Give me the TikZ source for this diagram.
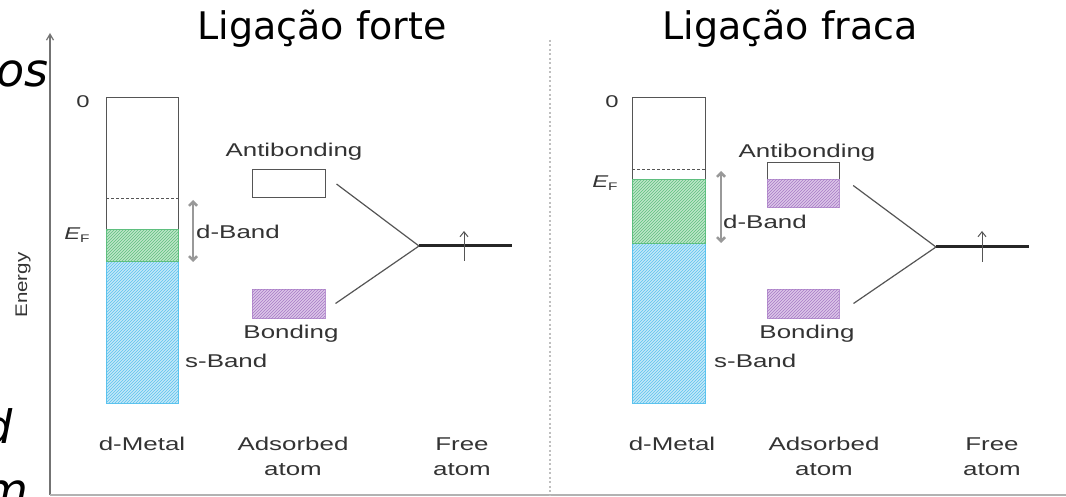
\documentclass[tikz,border=0pt]{standalone}
\usepackage{fontspec}
\usepackage{graphicx}
\setmainfont{Liberation Sans}
\newfontfamily\titlefont{DejaVu Sans}
\usetikzlibrary{patterns,arrows.meta}
\definecolor{txt}{HTML}{333333}
\definecolor{boxgray}{HTML}{555555}
\definecolor{gfill}{HTML}{BDE6C8}
\definecolor{ghatch}{HTML}{5FBF7F}
\definecolor{bfill}{HTML}{C4E8F8}
\definecolor{bhatch}{HTML}{5CC3EE}
\definecolor{pfill}{HTML}{DCC6E8}
\definecolor{phatch}{HTML}{A77AC6}
\newcommand{\hs}[1]{\scalebox{1.4}[1]{#1}}
\tikzset{
  lbl/.style={font=\fontsize{18.5}{20}\selectfont, text=txt, inner sep=0pt},
  smalllbl/.style={font=\fontsize{17}{19}\selectfont, text=txt, inner sep=0pt},
  ttl/.style={font=\titlefont\fontsize{38}{40}\selectfont, text=black, inner sep=0pt},
  frag/.style={font=\titlefont\itshape\fontsize{46}{50}\selectfont, text=black, inner sep=0pt},
  whitebox/.style={draw=boxgray, line width=1pt, fill=white},
  hatchg/.style={fill=gfill, postaction={pattern=north east lines, pattern color=ghatch}, draw=ghatch, line width=1pt},
  hatchb/.style={fill=bfill, postaction={pattern=north east lines, pattern color=bhatch}, draw=bhatch, line width=1pt},
  hatchp/.style={fill=pfill, postaction={pattern=north east lines, pattern color=phatch}, draw=phatch!80, line width=1pt},
  conn/.style={draw=boxgray, line width=1.2pt},
  level/.style={draw=black!85, line width=3pt},
  spin/.style={draw=boxgray, line width=1pt, -{Straight Barb[length=5pt,width=8pt]}},
  dband/.style={draw=black!40, line width=2.5pt, {Straight Barb[length=4pt,width=8pt]}-{Straight Barb[length=4pt,width=8pt]}},
  fermi/.style={draw=boxgray, line width=0.8pt, dash pattern=on 3pt off 2pt},
}
\begin{document}
\begin{tikzpicture}[x=1pt,y=-1pt]
\useasboundingbox (0,0) rectangle (1066,497);
\fill[white] (0,0) rectangle (1066,497);

% clipped slide fragments on the left
\begin{scope}
\clip (0,0) rectangle (1066,497);
\node[frag, anchor=base east] (fragos) at (49,87) {os};
\node[frag, anchor=base east] (fragd) at (13,443) {d};
\node[frag, anchor=base east] (fragm) at (29,506) {m};
\end{scope}

% titles
\node[ttl, anchor=base] (t1) at (322,40) {Ligação forte};
\node[ttl, anchor=base] (t2) at (790,40) {Ligação fraca};

% axes
\coordinate (axbot) at (50,495);
\coordinate (axtop) at (50,33);
\coordinate (axright) at (1066,495);
\draw[black!55, line width=1.2pt, -{Straight Barb[length=6pt,width=7pt]}] (axbot) -- (axtop);
\draw[black!30, line width=1.2pt] (axbot) -- (axright);
\node[font=\fontsize{20.5}{22}\selectfont, text=txt, rotate=90, inner sep=0pt] (energy) at (23,285) {\scalebox{1}[0.82]{Energy}};

% divider
\coordinate (dvtop) at (550,40);
\coordinate (dvbot) at (550,495);
\draw[black!25, line width=1.6pt, dash pattern=on 2pt off 2.5pt] (dvtop) -- (dvbot);

% ---------------- left panel: strong bonding ----------------
\draw[whitebox] (106,98) rectangle (178,230);
\draw[hatchb] (106,262) rectangle (178,403);
\draw[hatchg] (106,230) rectangle (178,262);
\draw[fermi] (106,198) -- (178,198);
\node[smalllbl, anchor=base] (zero1) at (83,108) {\hs{0}};
\node[smalllbl, anchor=base] (ef1) at (77,240) {\hs{\itshape E}\raisebox{-3pt}{\fontsize{11}{12}\selectfont\hs{F}}};
\coordinate (db1t) at (193,200);
\coordinate (db1b) at (193,262);
\draw[dband] (db1t) -- (db1b);
\node[lbl, anchor=base west] (dband1) at (196,239) {\hs{d-Band}};
\node[lbl, anchor=base west] (sband1) at (185,367) {\hs{s-Band}};
\node[lbl, anchor=base] (ablbl1) at (294,157) {\hs{Antibonding}};
\node[whitebox, minimum width=73pt, minimum height=28pt, inner sep=0pt] (ab1) at (288.5,184) {};
\node[hatchp, minimum width=73pt, minimum height=29pt, inner sep=0pt] (bd1) at (288.5,303.5) {};
\node[lbl, anchor=base] (bdlbl1) at (291,338) {\hs{Bonding}};
\coordinate (j1) at (419,246);
\coordinate (fa1) at (512,246);
\draw[conn] ([xshift=11pt]ab1.east) -- (j1);
\draw[conn] ([xshift=10pt]bd1.east) -- (j1);
\draw[level] (j1) -- (fa1);
\coordinate (s1b) at (464,261);
\coordinate (s1t) at (464,231);
\draw[spin] (s1b) -- (s1t);
\node[lbl, anchor=base] (dm1) at (142,450) {\hs{d-Metal}};
\node[lbl, anchor=base] (ad1) at (293,450) {\hs{Adsorbed}};
\node[lbl, anchor=base] (ad1b) at (293,475) {\hs{atom}};
\node[lbl, anchor=base] (fr1) at (462,450) {\hs{Free}};
\node[lbl, anchor=base] (fr1b) at (462,475) {\hs{atom}};

% ---------------- right panel: weak bonding ----------------
\draw[whitebox] (632,98) rectangle (705,180);
\draw[hatchb] (632,244) rectangle (705,403);
\draw[hatchg] (632,180) rectangle (705,244);
\draw[fermi] (632,169) -- (705,169);
\node[smalllbl, anchor=base] (zero2) at (612,108) {\hs{0}};
\node[smalllbl, anchor=base] (ef2) at (605,188) {\hs{\itshape E}\raisebox{-3pt}{\fontsize{11}{12}\selectfont\hs{F}}};
\coordinate (db2t) at (721,171);
\coordinate (db2b) at (721,243);
\draw[dband] (db2t) -- (db2b);
\node[lbl, anchor=base west] (dband2) at (723,229) {\hs{d-Band}};
\node[lbl, anchor=base west] (sband2) at (714,367) {\hs{s-Band}};
\node[lbl, anchor=base] (ablbl2) at (807,158) {\hs{Antibonding}};
\draw[whitebox] (767,163) rectangle (839,180);
\draw[hatchp] (767,180) rectangle (839,208);
\node[inner sep=0pt, minimum width=72pt, minimum height=45pt] (ab2) at (803,185.5) {};
\node[hatchp, minimum width=72pt, minimum height=29pt, inner sep=0pt] (bd2) at (803,303.5) {};
\node[lbl, anchor=base] (bdlbl2) at (807,338) {\hs{Bonding}};
\coordinate (j2) at (936,247);
\coordinate (fa2) at (1029,247);
\draw[conn] ([xshift=14pt]ab2.east) -- (j2);
\draw[conn] ([xshift=14pt]bd2.east) -- (j2);
\draw[level] (j2) -- (fa2);
\coordinate (s2b) at (982,262);
\coordinate (s2t) at (982,231);
\draw[spin] (s2b) -- (s2t);
\node[lbl, anchor=base] (dm2) at (672,450) {\hs{d-Metal}};
\node[lbl, anchor=base] (ad2) at (824,450) {\hs{Adsorbed}};
\node[lbl, anchor=base] (ad2b) at (824,475) {\hs{atom}};
\node[lbl, anchor=base] (fr2) at (992,450) {\hs{Free}};
\node[lbl, anchor=base] (fr2b) at (992,475) {\hs{atom}};
\end{tikzpicture}
\end{document}
